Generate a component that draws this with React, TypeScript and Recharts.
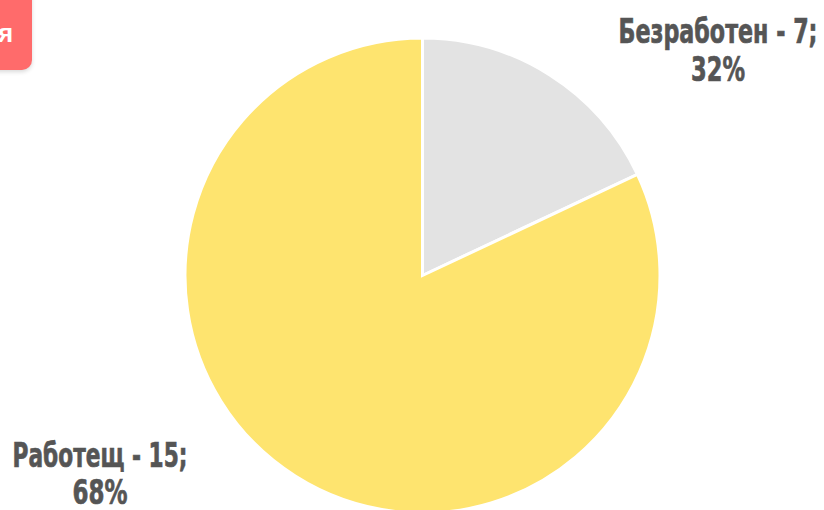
import React from 'react';
import { PieChart, Pie, Cell } from 'recharts';

// Categories and labels as printed on the chart
const categories = ['Безработен', 'Работещ'];
const counts = [7, 15];
const percentLabels = ['32%', '68%'];
// Slice shares as drawn in the picture (percent of the circle)
const sliceShares = [18, 82];
const colors = ['#E3E3E3', '#FEE46F'];

const data = categories.map((name, i) => ({
  name,
  value: sliceShares[i],
  count: counts[i],
  pct: percentLabels[i],
}));

const FONT = '"DejaVu Sans Condensed", "Liberation Sans", sans-serif';

const labelLayout = [
  { dx: 295.5, dy: -233, w1: 199, w2: 54, gap: 38.5 },
  { dx: -322.5, dy: 191, w1: 175, w2: 55, gap: 37.5 },
];

const renderLabel = (props: any) => {
  const { cx, cy, index, payload } = props;
  const p = payload && payload.payload ? payload.payload : payload;
  const L = labelLayout[index];
  const x = cx + L.dx;
  const y = cy + L.dy;
  return (
    <text
      key={`lbl-${index}`}
      x={x}
      y={y}
      textAnchor="middle"
      fill="#555555"
      stroke="#555555"
      strokeWidth={0.7}
      fontFamily={FONT}
      fontWeight={700}
      fontSize={34.5}
    >
      <tspan x={x} y={y} textLength={L.w1} lengthAdjust="spacingAndGlyphs">{`${p.name} - ${p.count};`}</tspan>
      <tspan x={x} y={y + L.gap} textLength={L.w2} lengthAdjust="spacingAndGlyphs">{p.pct}</tspan>
    </text>
  );
};

export default function App() {
  return (
    <div style={{ position: 'fixed', left: 0, top: 0, width: 824, height: 510, background: '#fff', overflow: 'hidden' }}>
      <PieChart width={824} height={510} margin={{ top: 0, right: 0, bottom: 0, left: 0 }}>
        <Pie
          data={data}
          dataKey="value"
          nameKey="name"
          cx={422.5}
          cy={275.5}
          outerRadius={237.5}
          startAngle={90}
          endAngle={-270}
          stroke="#ffffff"
          strokeWidth={3}
          label={renderLabel}
          labelLine={false}
          isAnimationActive={false}
        >
          {data.map((d, i) => (
            <Cell key={d.name} fill={colors[i]} />
          ))}
        </Pie>
      </PieChart>
      <div
        style={{
          position: 'absolute',
          left: -30,
          top: -20,
          width: 62,
          height: 90,
          background: '#FF6B6B',
          borderRadius: 10,
          boxShadow: '0 2px 4px rgba(0,0,0,0.15)',
        }}
      >
        <span
          style={{
            position: 'absolute',
            left: 28,
            top: 41,
            color: '#fff',
            fontFamily: '"Liberation Sans", Arial, sans-serif',
            fontWeight: 700,
            fontSize: 26,
            lineHeight: '24px',
          }}
        >
          я
        </span>
      </div>
    </div>
  );
}
